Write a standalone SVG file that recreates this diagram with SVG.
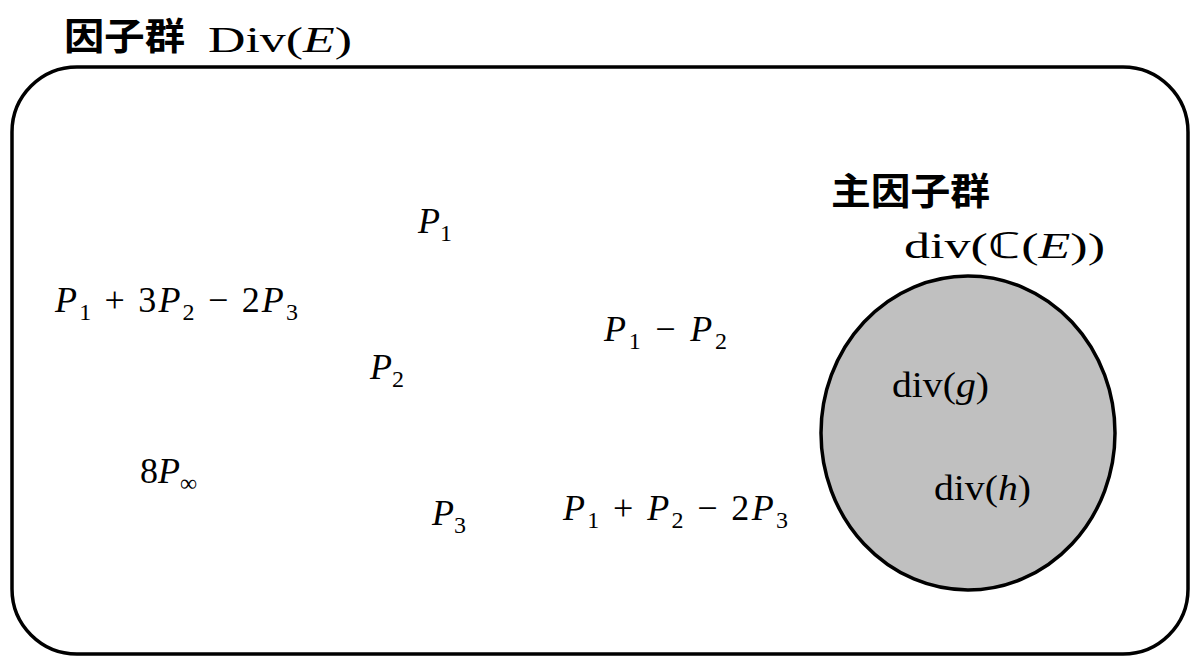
<svg xmlns="http://www.w3.org/2000/svg" width="1200" height="669" viewBox="0 0 1200 669">
<style>
.m{font-family:"Liberation Serif",serif;font-size:36px;fill:#000}
.i{font-style:italic}
.s{font-size:24px}
.j{font-family:"Noto Sans CJK JP",sans-serif;font-weight:bold;font-size:37px;fill:#000}
</style>
<rect width="1200" height="669" fill="#fff"/>
<g id="divgroup">
<rect x="12" y="67" width="1176" height="587" rx="65" fill="none" stroke="#000" stroke-width="3.5"/>
<text class="j" x="64" y="50" textLength="121" lengthAdjust="spacingAndGlyphs">因子群</text>
<text class="m" x="208" y="52" font-size="40" textLength="144" lengthAdjust="spacingAndGlyphs">Div(<tspan class="i">E</tspan>)</text>
</g>
<g id="principal">
<ellipse cx="968" cy="433" rx="147" ry="157" fill="#c0c0c0" stroke="#000" stroke-width="3.5"/>
<text class="j" x="831" y="205" textLength="159" lengthAdjust="spacingAndGlyphs">主因子群</text>
<text class="m" x="904" y="258" font-size="40" textLength="201" lengthAdjust="spacingAndGlyphs">div(ℂ(<tspan class="i">E</tspan>))</text>
<text class="m" x="892" y="397" font-size="32" textLength="97" lengthAdjust="spacingAndGlyphs">div(<tspan class="i">g</tspan>)</text>
<text class="m" x="934" y="500" font-size="32" textLength="97" lengthAdjust="spacingAndGlyphs">div(<tspan class="i">h</tspan>)</text>
</g>
<g id="elements">
<text class="m" x="418" y="233"><tspan class="i">P</tspan><tspan class="s" dy="8">1</tspan></text>
<text class="m" x="55" y="312" textLength="243"><tspan class="i">P</tspan><tspan class="s" dy="8">1</tspan><tspan dy="-8"> + 3</tspan><tspan class="i">P</tspan><tspan class="s" dy="8">2</tspan><tspan dy="-8"> − 2</tspan><tspan class="i">P</tspan><tspan class="s" dy="8">3</tspan></text>
<text class="m" x="604" y="341" textLength="123"><tspan class="i">P</tspan><tspan class="s" dy="8">1</tspan><tspan dy="-8"> − </tspan><tspan class="i">P</tspan><tspan class="s" dy="8">2</tspan></text>
<text class="m" x="370" y="379"><tspan class="i">P</tspan><tspan class="s" dy="8">2</tspan></text>
<text class="m" x="140" y="483">8<tspan class="i">P</tspan><tspan class="s" dy="8" font-size="30">∞</tspan></text>
<text class="m" x="432" y="525"><tspan class="i">P</tspan><tspan class="s" dy="8">3</tspan></text>
<text class="m" x="563" y="520" textLength="225"><tspan class="i">P</tspan><tspan class="s" dy="8">1</tspan><tspan dy="-8"> + </tspan><tspan class="i">P</tspan><tspan class="s" dy="8">2</tspan><tspan dy="-8"> − 2</tspan><tspan class="i">P</tspan><tspan class="s" dy="8">3</tspan></text>
</g>
<g id="connectors"/>
</svg>
